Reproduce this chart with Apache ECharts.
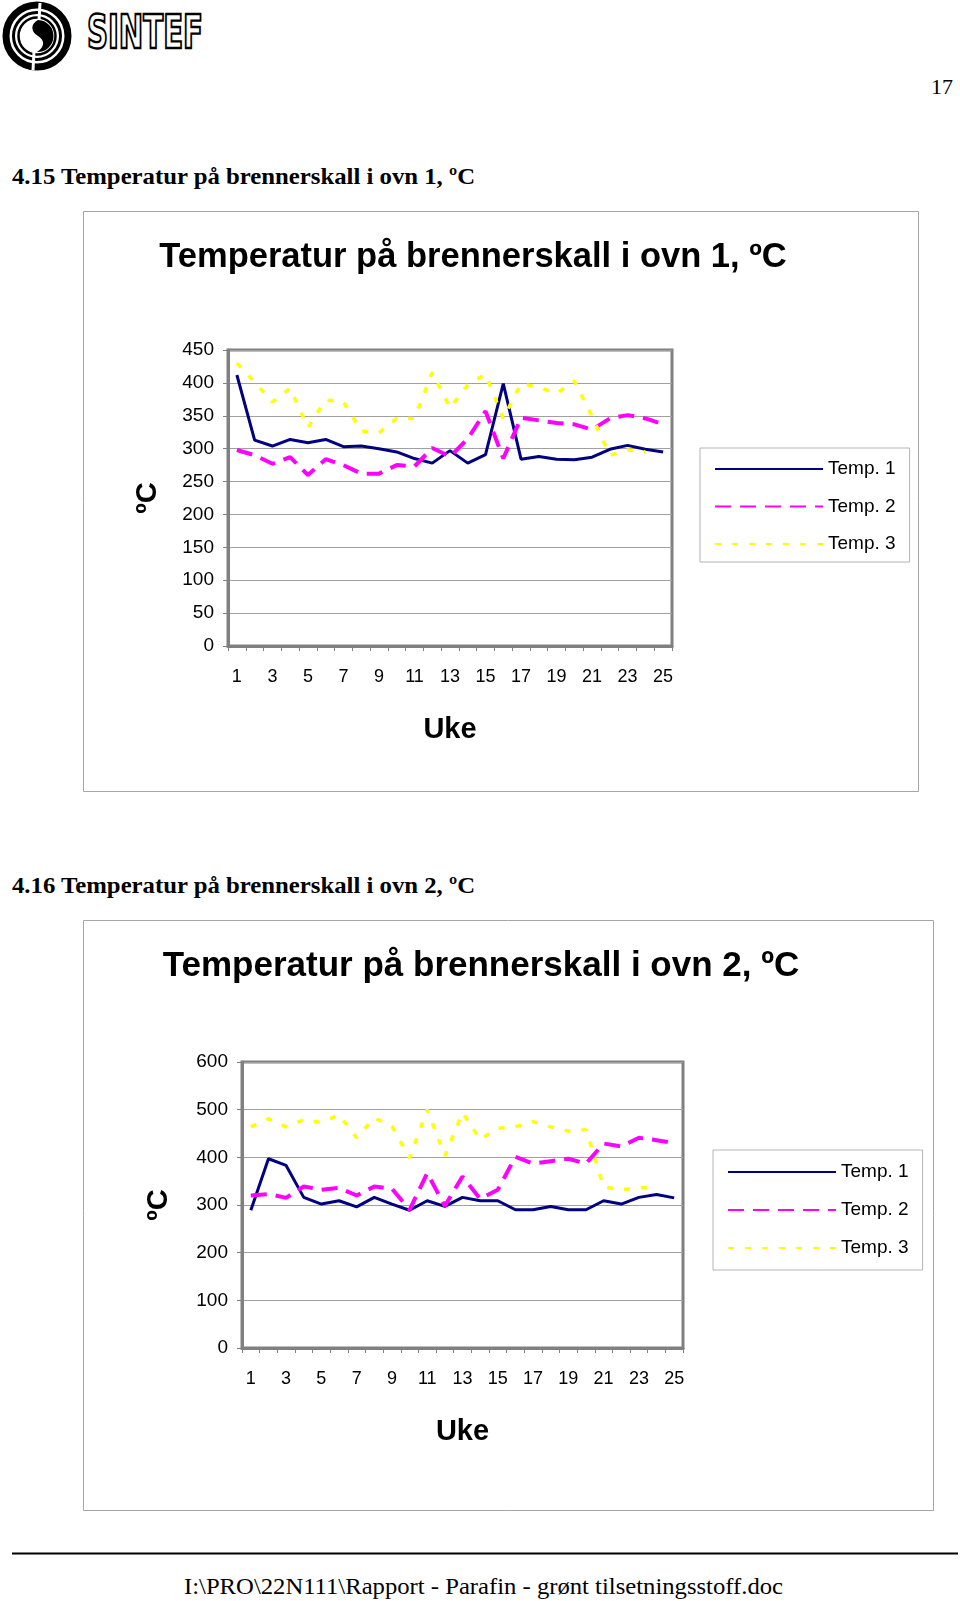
<!DOCTYPE html>
<html>
<head>
<meta charset="utf-8">
<script src="https://cdn.jsdelivr.net/npm/echarts@6/dist/echarts.min.js"></script>
<style>
  html, body { margin: 0; padding: 0; background: #ffffff; }
  #page { position: relative; width: 960px; height: 1601px; overflow: hidden; }
  #deco { position: absolute; left: 0; top: 0; }
  #chart { position: absolute; left: 0; top: 0; width: 960px; height: 1601px; }
</style>
</head>
<body>
<div id="page">
  <svg id="deco" width="960" height="1601" xmlns="http://www.w3.org/2000/svg">
    <!-- SINTEF logo -->
    <g>
      <circle cx="37" cy="36" r="31" fill="none" stroke="#000" stroke-width="7"/>
      <circle cx="37" cy="36" r="23.5" fill="none" stroke="#000" stroke-width="3"/>
      <circle cx="37" cy="36" r="18.5" fill="none" stroke="#000" stroke-width="2.5"/>
      <path d="M38,20 C30,24 31,32 38,36 C45,40 45,47 37,52 A16,16 0 0 0 38,20 Z" fill="#000"/>
      <line x1="40" y1="3" x2="39" y2="20" stroke="#fff" stroke-width="3"/>
      <line x1="34" y1="52" x2="33" y2="70" stroke="#fff" stroke-width="3"/>
      <text x="87" y="48" font-family="DejaVu Sans Condensed, DejaVu Sans" font-weight="bold" font-size="46" fill="#fff" stroke="#000" stroke-width="2.4" textLength="116" lengthAdjust="spacingAndGlyphs">SINTEF</text>
    </g>
    <!-- page number -->
    <text x="931" y="94" font-family="Liberation Serif" font-size="22" fill="#000">17</text>
    <!-- section headings -->
    <text x="12" y="184" font-family="Liberation Serif" font-weight="bold" font-size="23" fill="#000" textLength="463" lengthAdjust="spacingAndGlyphs">4.15 Temperatur på brennerskall i ovn 1, ºC</text>
    <text x="12" y="893" font-family="Liberation Serif" font-weight="bold" font-size="23" fill="#000" textLength="463" lengthAdjust="spacingAndGlyphs">4.16 Temperatur på brennerskall i ovn 2, ºC</text>
    <!-- footer -->
    <line x1="12" y1="1553.5" x2="958" y2="1553.5" stroke="#000" stroke-width="2"/>
    <text x="184" y="1594" font-family="Liberation Serif" font-size="23" fill="#000" textLength="599" lengthAdjust="spacingAndGlyphs">I:\PRO\22N111\Rapport - Parafin - grønt tilsetningsstoff.doc</text>
  </svg>
  <div id="chart"></div>
</div>
<script>
// ---- Data ----
const weeks = ['1','2','3','4','5','6','7','8','9','10','11','12','13','14','15','16','17','18','19','20','21','22','23','24','25'];
const seriesNames = ['Temp. 1', 'Temp. 2', 'Temp. 3'];

const chartTitles = ['Temperatur på brennerskall i ovn 1, ºC', 'Temperatur på brennerskall i ovn 2, ºC'];
const yAxisName = 'ºC';
const xAxisName = 'Uke';

// Ovn 1
const ovn1Temp1 = [412, 313, 304, 314, 309, 314, 303, 304, 300, 295, 285, 278, 297, 278, 291, 399, 284, 288, 284, 283, 287, 299, 305, 299, 295];
const ovn1Temp2 = [298, 290, 277, 287, 260, 284, 275, 262, 262, 275, 273, 301, 288, 315, 357, 285, 347, 343, 339, 337, 329, 346, 351, 346, 337];
const ovn1Temp3 = [430, 401, 371, 392, 332, 374, 371, 327, 324, 346, 346, 416, 362, 397, 413, 346, 399, 393, 384, 403, 349, 290, 298, 295, null];
const ovn1YMax = 450, ovn1YStep = 50;

// Ovn 2
const ovn2Temp1 = [289, 397, 383, 316, 302, 309, 296, 316, 302, 289, 309, 297, 316, 309, 309, 290, 290, 297, 290, 290, 309, 302, 316, 322, 315];
const ovn2Temp2 = [320, 323, 315, 339, 332, 336, 320, 339, 334, 290, 367, 298, 360, 313, 332, 401, 387, 392, 397, 387, 429, 423, 441, 436, 430];
const ovn2Temp3 = [464, 481, 464, 479, 473, 489, 441, 483, 465, 399, 500, 403, 494, 437, 461, 464, 475, 464, 455, 458, 338, 332, 336, 338, null];
const ovn2YMax = 600, ovn2YStep = 100;

// ---- Styles ----
const FONT = '"Liberation Sans", Arial, sans-serif';
const lineStyles = [
  { color: '#000080', width: 3, type: 'solid' },
  { color: '#ff00ff', width: 4, type: [16, 9] },
  { color: '#ffff00', width: 3.5, type: [6, 11] }
];
const frameGray = '#808080';

function xAxisCfg(gridIndex) {
  return {
    type: 'category', gridIndex: gridIndex, data: weeks, boundaryGap: true,
    name: xAxisName, nameLocation: 'middle', nameGap: 69,
    nameTextStyle: { fontFamily: FONT, fontWeight: 'bold', fontSize: 29, color: '#000' },
    axisLine: { show: true, lineStyle: { color: frameGray, width: 3 } },
    axisTick: { show: true, interval: 0, length: 5, lineStyle: { color: frameGray, width: 1 } },
    axisLabel: { interval: 1, margin: 22, fontFamily: FONT, fontSize: 18, color: '#000' },
    splitLine: { show: false }
  };
}
function yAxisCfg(gridIndex, max, step, nameGap) {
  return {
    type: 'value', gridIndex: gridIndex, min: 0, max: max, interval: step,
    name: yAxisName, nameLocation: 'middle', nameRotate: 90, nameGap: nameGap,
    nameTextStyle: { fontFamily: FONT, fontWeight: 'bold', fontSize: 29, color: '#000' },
    axisLine: { show: true, lineStyle: { color: frameGray, width: 3 } },
    axisTick: { show: true, length: 5, lineStyle: { color: frameGray, width: 1 } },
    axisLabel: { margin: 14, fontFamily: FONT, fontSize: 19, color: '#000' },
    splitLine: { show: true, lineStyle: { color: '#a0a0a0', width: 1 } }
  };
}
function lineSeries(name, data, idx, axisIndex) {
  return {
    type: 'line', name: name, data: data,
    xAxisIndex: axisIndex, yAxisIndex: axisIndex,
    symbol: 'none', showSymbol: false, connectNulls: false,
    lineStyle: lineStyles[idx], itemStyle: { color: lineStyles[idx].color },
    animation: false
  };
}
function legendCfg(left, top, padding, gap) {
  return {
    orient: 'vertical', left: left, top: top, data: seriesNames,
    itemWidth: 108, itemHeight: 20, itemGap: gap,
    padding: padding, borderColor: '#b4b4b4', borderWidth: 1,
    itemStyle: { opacity: 0, color: 'transparent', borderWidth: 0 },
    textStyle: { fontFamily: FONT, fontSize: 19, color: '#000', lineHeight: 20 },
    selectedMode: false
  };
}

const chart = echarts.init(document.getElementById('chart'), null, { renderer: 'canvas', width: 960, height: 1601 });
chart.setOption({
  animation: false,
  backgroundColor: 'transparent',
  grid: [
    { left: 228, top: 350, width: 444, height: 296, show: true, borderColor: frameGray, borderWidth: 3, backgroundColor: '#fff' },
    { left: 242, top: 1062, width: 441, height: 286, show: true, borderColor: frameGray, borderWidth: 3, backgroundColor: '#fff' }
  ],
  xAxis: [xAxisCfg(0), xAxisCfg(1)],
  yAxis: [yAxisCfg(0, ovn1YMax, ovn1YStep, 66), yAxisCfg(1, ovn2YMax, ovn2YStep, 69)],
  legend: [
    legendCfg(700, 448, [11, 14, 8, 14], 17.5),
    legendCfg(713, 1150, [12, 14, 12, 14], 18)
  ],
  series: [
    lineSeries(seriesNames[0], ovn1Temp1, 0, 0),
    lineSeries(seriesNames[1], ovn1Temp2, 1, 0),
    lineSeries(seriesNames[2], ovn1Temp3, 2, 0),
    lineSeries(seriesNames[0], ovn2Temp1, 0, 1),
    lineSeries(seriesNames[1], ovn2Temp2, 1, 1),
    lineSeries(seriesNames[2], ovn2Temp3, 2, 1)
  ],
  graphic: [
    { type: 'rect', z: -10, shape: { x: 83.5, y: 211.5, width: 835, height: 580 }, style: { fill: '#fff', stroke: '#a6a6a6', lineWidth: 1 } },
    { type: 'rect', z: -10, shape: { x: 83.5, y: 920.5, width: 850, height: 590 }, style: { fill: '#fff', stroke: '#a6a6a6', lineWidth: 1 } },
    { type: 'text', x: 473, y: 257, style: { text: chartTitles[0], fontFamily: FONT, fontWeight: 'bold', fontSize: 34.5, fill: '#000', align: 'center', verticalAlign: 'middle' } },
    { type: 'text', x: 481, y: 966, style: { text: chartTitles[1], fontFamily: FONT, fontWeight: 'bold', fontSize: 35, fill: '#000', align: 'center', verticalAlign: 'middle' } }
  ]
});
</script>
</body>
</html>
